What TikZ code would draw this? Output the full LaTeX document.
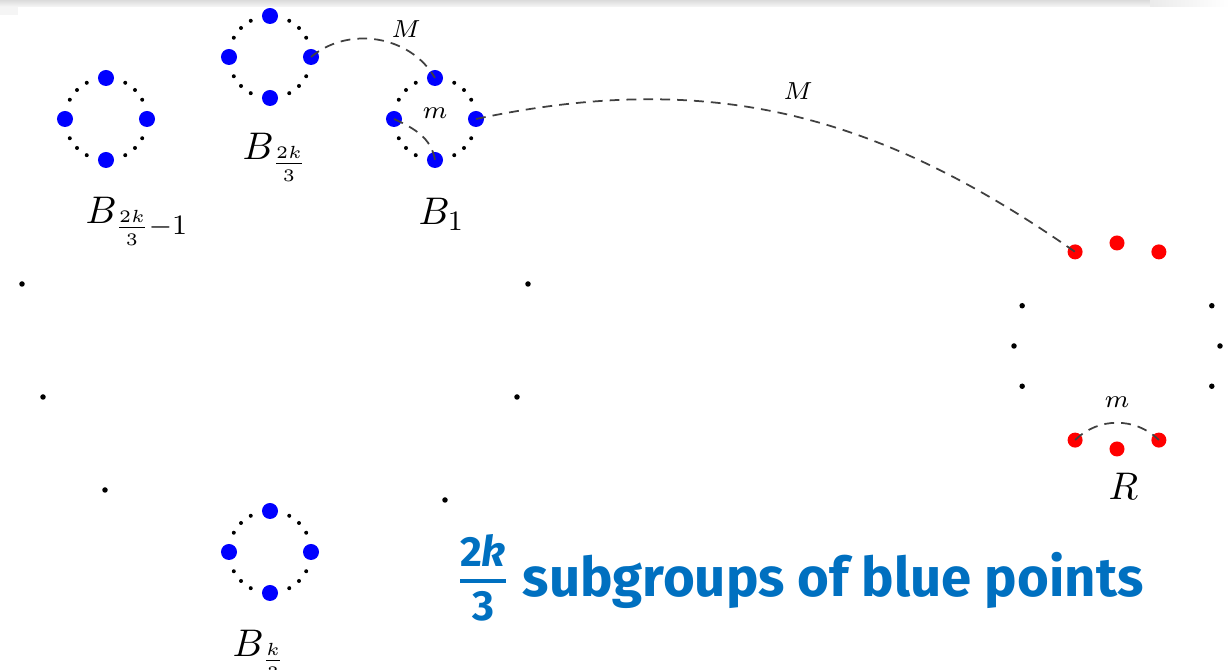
\documentclass[tikz,border=0pt]{standalone}
\usepackage{fontspec}
\usepackage{xcolor}
\usetikzlibrary{calc,positioning}

\newfontfamily\capfont{Fira Sans}
\definecolor{capblue}{HTML}{0070C0}

\begin{document}
\begin{tikzpicture}[
    x=0.01cm, y=0.01cm,
    bluept/.style={circle, fill=blue, inner sep=0pt, minimum size=0.16cm},
    redpt/.style={circle, fill=red, inner sep=0pt, minimum size=0.15cm},
    smalldot/.style={circle, fill=black, inner sep=0pt, minimum size=0.04cm},
    bigdot/.style={circle, fill=black, inner sep=0pt, minimum size=0.055cm},
    link/.style={draw=black!75, dash pattern=on 2.8pt off 2pt, line width=0.5pt},
    linklabel/.style={font=\fontsize{7.5}{8}\selectfont, inner sep=0pt},
    grouplabel/.style={font=\fontsize{11}{13}\selectfont, inner sep=0pt, anchor=base west},
    captext/.style={font=\capfont\bfseries\fontsize{15.5}{18}\selectfont, text=capblue, inner sep=0pt},
]
\useasboundingbox (0,0) rectangle (1229,670);
% screenshot edge
\shade[top color=black!14, bottom color=black!3] (0,670) rectangle (1150,663);
\shade[left color=black!8, right color=white] (1150,670) rectangle (1229,663);
\fill[black!4] (0,663) rectangle (18,655);

% blue subgroups
\foreach \g/\cx/\cy in {bl/106/551, bt/270/613, bo/435/551, bk/270/118} {
    \coordinate (\g-c) at (\cx,\cy);
    \foreach \a/\d in {90/n, 180/w, 0/e, 270/s}
        \node[bluept] (\g-\d) at ($(\g-c)+(\a:41)$) {};
    \foreach \a in {28,45,62,118,135,152,208,225,242,298,315,332}
        \node[smalldot] at ($(\g-c)+(\a:41)$) {};
}

% the big ring of subgroups
\foreach \p in {(22,386), (43,273), (105,180), (445,170), (517,273), (528,386)}
    \node[bigdot] at \p {};

% red points
\coordinate (rc) at (1117,324);
\foreach \a/\d in {114/nw, 90/n, 66/ne, 246/sw, 270/s, 294/se}
    \node[redpt] (r-\d) at ($(rc)+(\a:103)$) {};
\foreach \a in {157,180,203,23,0,-23}
    \node[bigdot] at ($(rc)+(\a:103)$) {};

% labels
\node[grouplabel] (lbl-bl) at (85,446) {$B_{\frac{2k}{3}-1}$};
\node[grouplabel] (lbl-bt) at (242,510) {$B_{\frac{2k}{3}}$};
\node[grouplabel] (lbl-bo) at (418,445) {$B_1$};
\node[grouplabel] (lbl-bk) at (232,13) {$B_{\frac{k}{3}}$};
\node[grouplabel] (lbl-r) at (1108,170) {$R$};

% links
\draw[link] (bt-e.center) to[out=40, in=120] (bo-n.center);
\draw[link] (bo-w.center) to[out=-25, in=100] (bo-s.center);
\draw[link] (bo-e.center) to[out=12, in=145] (r-nw.center);
\draw[link] (r-sw.center) to[out=45, in=135] (r-se.center);
\node[linklabel] (lbl-m1) at (406,641) {$M$};
\node[linklabel] (lbl-m2) at (435,557) {$m$};
\node[linklabel] (lbl-m3) at (798,579) {$M$};
\node[linklabel] (lbl-m4) at (1117,268) {$m$};

% caption
\node[captext, anchor=base west] (cap) at (522,73) {subgroups of blue points};
\node[captext, font=\capfont\bfseries\fontsize{12}{14}\selectfont] (capnum) at (483,120) {2\textit{k}};
\node[captext, font=\capfont\bfseries\fontsize{12}{14}\selectfont] (capden) at (483,64) {3};
\draw[capblue, line width=1.4pt] (460,89) -- (506,89);
\end{tikzpicture}
\end{document}
